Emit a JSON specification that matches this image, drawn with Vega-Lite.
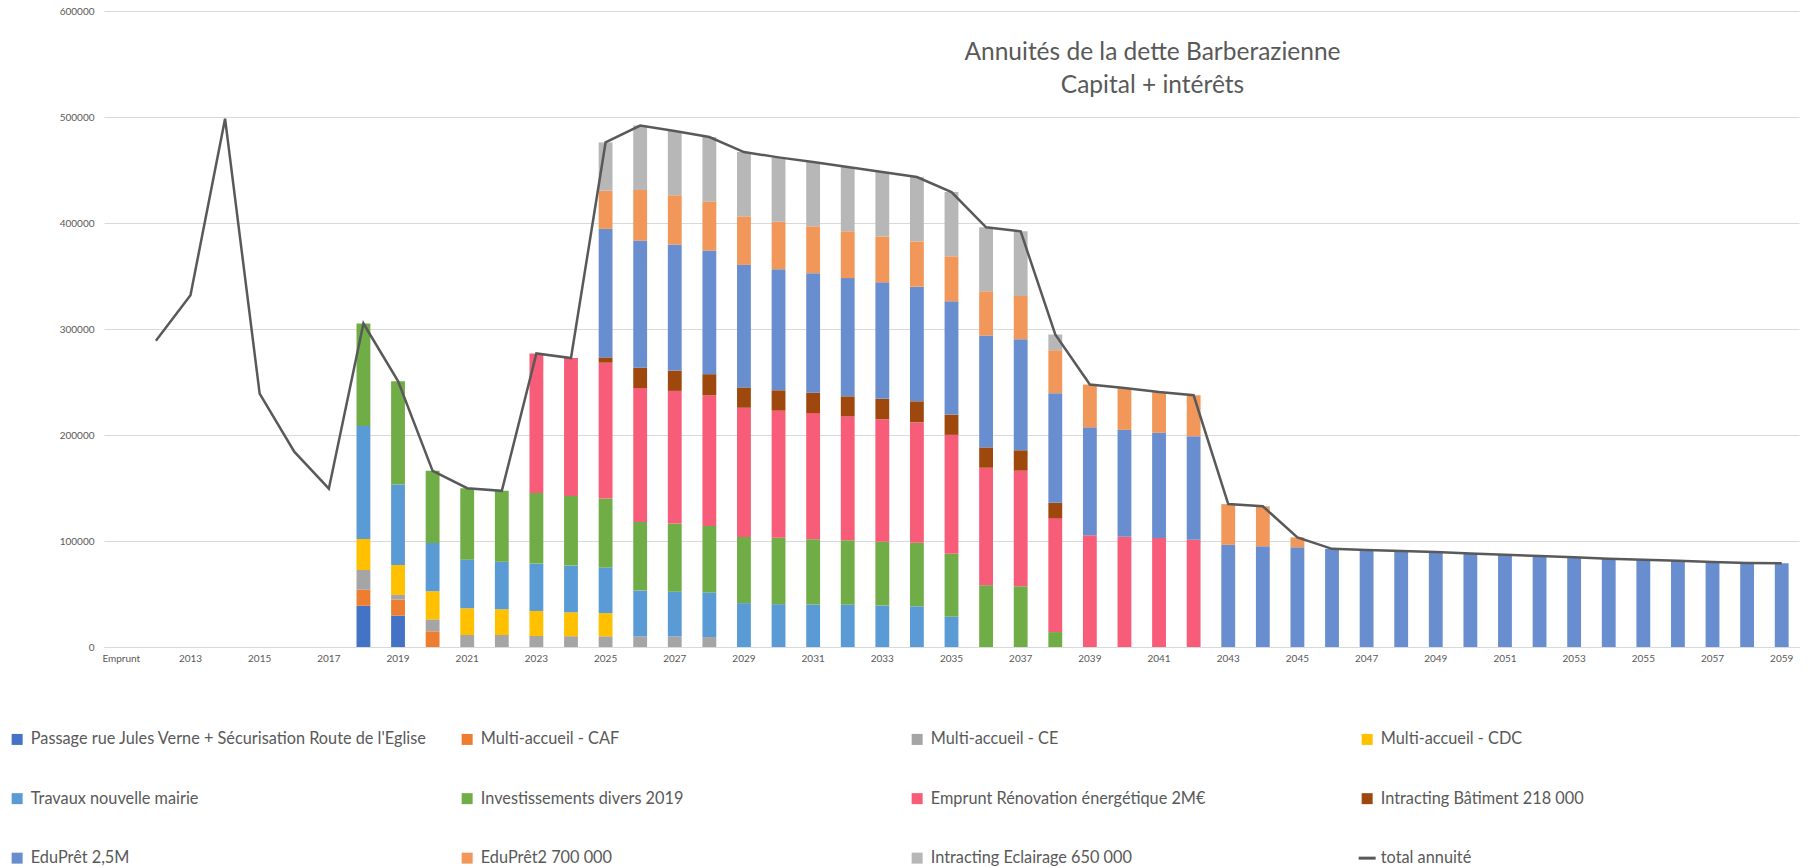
{
  "$schema": "https://vega.github.io/schema/vega-lite/v6.json",
  "width": 1695,
  "height": 636,
  "autosize": {"type": "none"},
  "padding": {"left": 104, "top": 11, "right": 9, "bottom": 221},
  "background": "white",
  "config": {"view": {"stroke": null}, "font": "Lato"},
  "title": {
    "text": ["Annuités de la dette Barberazienne", "Capital + intérêts"],
    "anchor": "middle",
    "frame": "group",
    "dx": 201,
    "dy": 96,
    "font": "Lato",
    "fontSize": 24.5,
    "fontWeight": "normal",
    "color": "#595959",
    "lineHeight": 33
  },
  "datasets": {
    "series": [
      {"code": "A", "serie": "Passage rue Jules Verne + Sécurisation Route de l'Eglise", "rang": 1},
      {"code": "B", "serie": "Multi-accueil - CAF", "rang": 2},
      {"code": "C", "serie": "Multi-accueil - CE", "rang": 3},
      {"code": "D", "serie": "Multi-accueil - CDC", "rang": 4},
      {"code": "E", "serie": "Travaux nouvelle mairie", "rang": 5},
      {"code": "F", "serie": "Investissements divers 2019", "rang": 6},
      {"code": "G", "serie": "Emprunt Rénovation énergétique 2M€", "rang": 7},
      {"code": "H", "serie": "Intracting Bâtiment 218 000", "rang": 8},
      {"code": "I", "serie": "EduPrêt 2,5M", "rang": 9},
      {"code": "J", "serie": "EduPrêt2 700 000", "rang": 10},
      {"code": "K", "serie": "Intracting Eclairage 650 000", "rang": 11},
      {"code": "L", "serie": "total annuité", "rang": 12}
    ],
    "annuites": [
      {"annee": "2018", "code": "A", "valeur": 39000},
      {"annee": "2019", "code": "A", "valeur": 29600},
      {"annee": "2018", "code": "B", "valeur": 15100},
      {"annee": "2019", "code": "B", "valeur": 15100},
      {"annee": "2020", "code": "B", "valeur": 14800},
      {"annee": "2018", "code": "C", "valeur": 18600},
      {"annee": "2019", "code": "C", "valeur": 4400},
      {"annee": "2020", "code": "C", "valeur": 11300},
      {"annee": "2021", "code": "C", "valeur": 11300},
      {"annee": "2022", "code": "C", "valeur": 11300},
      {"annee": "2023", "code": "C", "valeur": 10400},
      {"annee": "2024", "code": "C", "valeur": 10200},
      {"annee": "2025", "code": "C", "valeur": 10100},
      {"annee": "2026", "code": "C", "valeur": 10100},
      {"annee": "2027", "code": "C", "valeur": 10100},
      {"annee": "2028", "code": "C", "valeur": 9400},
      {"annee": "2018", "code": "D", "valeur": 29300},
      {"annee": "2019", "code": "D", "valeur": 28300},
      {"annee": "2020", "code": "D", "valeur": 26500},
      {"annee": "2021", "code": "D", "valeur": 25200},
      {"annee": "2022", "code": "D", "valeur": 24300},
      {"annee": "2023", "code": "D", "valeur": 23600},
      {"annee": "2024", "code": "D", "valeur": 22500},
      {"annee": "2025", "code": "D", "valeur": 21900},
      {"annee": "2018", "code": "E", "valeur": 106600},
      {"annee": "2019", "code": "E", "valeur": 75800},
      {"annee": "2020", "code": "E", "valeur": 45600},
      {"annee": "2021", "code": "E", "valeur": 45900},
      {"annee": "2022", "code": "E", "valeur": 44900},
      {"annee": "2023", "code": "E", "valeur": 44700},
      {"annee": "2024", "code": "E", "valeur": 44100},
      {"annee": "2025", "code": "E", "valeur": 43100},
      {"annee": "2026", "code": "E", "valeur": 43100},
      {"annee": "2027", "code": "E", "valeur": 42100},
      {"annee": "2028", "code": "E", "valeur": 42100},
      {"annee": "2029", "code": "E", "valeur": 41400},
      {"annee": "2030", "code": "E", "valeur": 40400},
      {"annee": "2031", "code": "E", "valeur": 40100},
      {"annee": "2032", "code": "E", "valeur": 39800},
      {"annee": "2033", "code": "E", "valeur": 39100},
      {"annee": "2034", "code": "E", "valeur": 38400},
      {"annee": "2035", "code": "E", "valeur": 28600},
      {"annee": "2018", "code": "F", "valeur": 96600},
      {"annee": "2019", "code": "F", "valeur": 97600},
      {"annee": "2020", "code": "F", "valeur": 68000},
      {"annee": "2021", "code": "F", "valeur": 67400},
      {"annee": "2022", "code": "F", "valeur": 66800},
      {"annee": "2023", "code": "F", "valeur": 66700},
      {"annee": "2024", "code": "F", "valeur": 65600},
      {"annee": "2025", "code": "F", "valeur": 65000},
      {"annee": "2026", "code": "F", "valeur": 64700},
      {"annee": "2027", "code": "F", "valeur": 64400},
      {"annee": "2028", "code": "F", "valeur": 62700},
      {"annee": "2029", "code": "F", "valeur": 62400},
      {"annee": "2030", "code": "F", "valeur": 62700},
      {"annee": "2031", "code": "F", "valeur": 61600},
      {"annee": "2032", "code": "F", "valeur": 60900},
      {"annee": "2033", "code": "F", "valeur": 60300},
      {"annee": "2034", "code": "F", "valeur": 60000},
      {"annee": "2035", "code": "F", "valeur": 59300},
      {"annee": "2036", "code": "F", "valeur": 58300},
      {"annee": "2037", "code": "F", "valeur": 57300},
      {"annee": "2038", "code": "F", "valeur": 14100},
      {"annee": "2023", "code": "G", "valeur": 131500},
      {"annee": "2024", "code": "G", "valeur": 130200},
      {"annee": "2025", "code": "G", "valeur": 128100},
      {"annee": "2026", "code": "G", "valeur": 126400},
      {"annee": "2027", "code": "G", "valeur": 125000},
      {"annee": "2028", "code": "G", "valeur": 123300},
      {"annee": "2029", "code": "G", "valeur": 121900},
      {"annee": "2030", "code": "G", "valeur": 119900},
      {"annee": "2031", "code": "G", "valeur": 119000},
      {"annee": "2032", "code": "G", "valeur": 116900},
      {"annee": "2033", "code": "G", "valeur": 115500},
      {"annee": "2034", "code": "G", "valeur": 113500},
      {"annee": "2035", "code": "G", "valeur": 112200},
      {"annee": "2036", "code": "G", "valeur": 110800},
      {"annee": "2037", "code": "G", "valeur": 109100},
      {"annee": "2038", "code": "G", "valeur": 107500},
      {"annee": "2039", "code": "G", "valeur": 105400},
      {"annee": "2040", "code": "G", "valeur": 104100},
      {"annee": "2041", "code": "G", "valeur": 102800},
      {"annee": "2042", "code": "G", "valeur": 101100},
      {"annee": "2025", "code": "H", "valeur": 5000},
      {"annee": "2026", "code": "H", "valeur": 19200},
      {"annee": "2027", "code": "H", "valeur": 19200},
      {"annee": "2028", "code": "H", "valeur": 19900},
      {"annee": "2029", "code": "H", "valeur": 19200},
      {"annee": "2030", "code": "H", "valeur": 19200},
      {"annee": "2031", "code": "H", "valeur": 19200},
      {"annee": "2032", "code": "H", "valeur": 18900},
      {"annee": "2033", "code": "H", "valeur": 19200},
      {"annee": "2034", "code": "H", "valeur": 19900},
      {"annee": "2035", "code": "H", "valeur": 19200},
      {"annee": "2036", "code": "H", "valeur": 19200},
      {"annee": "2037", "code": "H", "valeur": 19200},
      {"annee": "2038", "code": "H", "valeur": 14500},
      {"annee": "2025", "code": "I", "valeur": 121300},
      {"annee": "2026", "code": "I", "valeur": 119900},
      {"annee": "2027", "code": "I", "valeur": 118900},
      {"annee": "2028", "code": "I", "valeur": 116600},
      {"annee": "2029", "code": "I", "valeur": 115600},
      {"annee": "2030", "code": "I", "valeur": 114200},
      {"annee": "2031", "code": "I", "valeur": 112800},
      {"annee": "2032", "code": "I", "valeur": 111500},
      {"annee": "2033", "code": "I", "valeur": 109900},
      {"annee": "2034", "code": "I", "valeur": 108100},
      {"annee": "2035", "code": "I", "valeur": 106800},
      {"annee": "2036", "code": "I", "valeur": 105500},
      {"annee": "2037", "code": "I", "valeur": 104800},
      {"annee": "2038", "code": "I", "valeur": 103400},
      {"annee": "2039", "code": "I", "valeur": 101800},
      {"annee": "2040", "code": "I", "valeur": 100700},
      {"annee": "2041", "code": "I", "valeur": 99300},
      {"annee": "2042", "code": "I", "valeur": 97700},
      {"annee": "2043", "code": "I", "valeur": 96400},
      {"annee": "2044", "code": "I", "valeur": 95000},
      {"annee": "2045", "code": "I", "valeur": 94000},
      {"annee": "2046", "code": "I", "valeur": 92600},
      {"annee": "2047", "code": "I", "valeur": 91600},
      {"annee": "2048", "code": "I", "valeur": 90600},
      {"annee": "2049", "code": "I", "valeur": 89600},
      {"annee": "2050", "code": "I", "valeur": 88300},
      {"annee": "2051", "code": "I", "valeur": 87100},
      {"annee": "2052", "code": "I", "valeur": 85800},
      {"annee": "2053", "code": "I", "valeur": 84600},
      {"annee": "2054", "code": "I", "valeur": 83300},
      {"annee": "2055", "code": "I", "valeur": 82300},
      {"annee": "2056", "code": "I", "valeur": 81400},
      {"annee": "2057", "code": "I", "valeur": 80100},
      {"annee": "2058", "code": "I", "valeur": 79200},
      {"annee": "2059", "code": "I", "valeur": 78900},
      {"annee": "2025", "code": "J", "valeur": 36000},
      {"annee": "2026", "code": "J", "valeur": 47800},
      {"annee": "2027", "code": "J", "valeur": 46500},
      {"annee": "2028", "code": "J", "valeur": 46400},
      {"annee": "2029", "code": "J", "valeur": 45800},
      {"annee": "2030", "code": "J", "valeur": 44800},
      {"annee": "2031", "code": "J", "valeur": 44200},
      {"annee": "2032", "code": "J", "valeur": 44200},
      {"annee": "2033", "code": "J", "valeur": 43400},
      {"annee": "2034", "code": "J", "valeur": 42800},
      {"annee": "2035", "code": "J", "valeur": 42500},
      {"annee": "2036", "code": "J", "valeur": 41800},
      {"annee": "2037", "code": "J", "valeur": 40800},
      {"annee": "2038", "code": "J", "valeur": 40500},
      {"annee": "2039", "code": "J", "valeur": 40400},
      {"annee": "2040", "code": "J", "valeur": 39500},
      {"annee": "2041", "code": "J", "valeur": 38400},
      {"annee": "2042", "code": "J", "valeur": 38700},
      {"annee": "2043", "code": "J", "valeur": 38400},
      {"annee": "2044", "code": "J", "valeur": 37700},
      {"annee": "2045", "code": "J", "valeur": 9400},
      {"annee": "2025", "code": "K", "valeur": 45500},
      {"annee": "2026", "code": "K", "valeur": 60700},
      {"annee": "2027", "code": "K", "valeur": 60600},
      {"annee": "2028", "code": "K", "valeur": 60700},
      {"annee": "2029", "code": "K", "valeur": 60600},
      {"annee": "2030", "code": "K", "valeur": 60700},
      {"annee": "2031", "code": "K", "valeur": 60600},
      {"annee": "2032", "code": "K", "valeur": 60600},
      {"annee": "2033", "code": "K", "valeur": 60700},
      {"annee": "2034", "code": "K", "valeur": 60700},
      {"annee": "2035", "code": "K", "valeur": 60600},
      {"annee": "2036", "code": "K", "valeur": 60300},
      {"annee": "2037", "code": "K", "valeur": 60900},
      {"annee": "2038", "code": "K", "valeur": 14800},
      {"annee": "2012", "code": "L", "valeur": 289000},
      {"annee": "2013", "code": "L", "valeur": 331800},
      {"annee": "2014", "code": "L", "valeur": 498400},
      {"annee": "2015", "code": "L", "valeur": 239000},
      {"annee": "2016", "code": "L", "valeur": 184300},
      {"annee": "2017", "code": "L", "valeur": 149400},
      {"annee": "2018", "code": "L", "valeur": 305200},
      {"annee": "2019", "code": "L", "valeur": 250800},
      {"annee": "2020", "code": "L", "valeur": 166200},
      {"annee": "2021", "code": "L", "valeur": 149800},
      {"annee": "2022", "code": "L", "valeur": 147300},
      {"annee": "2023", "code": "L", "valeur": 276900},
      {"annee": "2024", "code": "L", "valeur": 272600},
      {"annee": "2025", "code": "L", "valeur": 476000},
      {"annee": "2026", "code": "L", "valeur": 491900},
      {"annee": "2027", "code": "L", "valeur": 486800},
      {"annee": "2028", "code": "L", "valeur": 481100},
      {"annee": "2029", "code": "L", "valeur": 466900},
      {"annee": "2030", "code": "L", "valeur": 461900},
      {"annee": "2031", "code": "L", "valeur": 457500},
      {"annee": "2032", "code": "L", "valeur": 452800},
      {"annee": "2033", "code": "L", "valeur": 448100},
      {"annee": "2034", "code": "L", "valeur": 443400},
      {"annee": "2035", "code": "L", "valeur": 429200},
      {"annee": "2036", "code": "L", "valeur": 395900},
      {"annee": "2037", "code": "L", "valeur": 392100},
      {"annee": "2038", "code": "L", "valeur": 294800},
      {"annee": "2039", "code": "L", "valeur": 247600},
      {"annee": "2040", "code": "L", "valeur": 244300},
      {"annee": "2041", "code": "L", "valeur": 240500},
      {"annee": "2042", "code": "L", "valeur": 237500},
      {"annee": "2043", "code": "L", "valeur": 134800},
      {"annee": "2044", "code": "L", "valeur": 132700},
      {"annee": "2045", "code": "L", "valeur": 103400},
      {"annee": "2046", "code": "L", "valeur": 92600},
      {"annee": "2047", "code": "L", "valeur": 91600},
      {"annee": "2048", "code": "L", "valeur": 90600},
      {"annee": "2049", "code": "L", "valeur": 89600},
      {"annee": "2050", "code": "L", "valeur": 88300},
      {"annee": "2051", "code": "L", "valeur": 87100},
      {"annee": "2052", "code": "L", "valeur": 85800},
      {"annee": "2053", "code": "L", "valeur": 84600},
      {"annee": "2054", "code": "L", "valeur": 83300},
      {"annee": "2055", "code": "L", "valeur": 82300},
      {"annee": "2056", "code": "L", "valeur": 81400},
      {"annee": "2057", "code": "L", "valeur": 80100},
      {"annee": "2058", "code": "L", "valeur": 79200},
      {"annee": "2059", "code": "L", "valeur": 78900}
    ]
  },
  "data": {"name": "annuites"},
  "transform": [
    {"lookup": "code", "from": {"data": {"name": "series"}, "key": "code", "fields": ["serie", "rang"]}}
  ],
  "encoding": {
    "x": {
      "field": "annee",
      "type": "nominal",
      "title": null,
      "scale": {
        "type": "band",
        "paddingInner": 0.6,
        "paddingOuter": 0.3,
        "domain": ["Emprunt", "2012", "2013", "2014", "2015", "2016", "2017", "2018", "2019", "2020", "2021", "2022", "2023", "2024", "2025", "2026", "2027", "2028", "2029", "2030", "2031", "2032", "2033", "2034", "2035", "2036", "2037", "2038", "2039", "2040", "2041", "2042", "2043", "2044", "2045", "2046", "2047", "2048", "2049", "2050", "2051", "2052", "2053", "2054", "2055", "2056", "2057", "2058", "2059"]
      },
      "axis": {
        "values": ["Emprunt", "2013", "2015", "2017", "2019", "2021", "2023", "2025", "2027", "2029", "2031", "2033", "2035", "2037", "2039", "2041", "2043", "2045", "2047", "2049", "2051", "2053", "2055", "2057", "2059"],
        "labelAngle": 0,
        "ticks": false,
        "domainColor": "#D9D9D9",
        "domainWidth": 1,
        "labelFont": "Lato",
        "labelFontSize": 10,
        "labelColor": "#595959",
        "labelPadding": 6,
        "grid": false
      }
    },
    "y": {
      "field": "valeur",
      "type": "quantitative",
      "title": null,
      "scale": {"domain": [0, 600000], "nice": false},
      "axis": {
        "values": [0, 100000, 200000, 300000, 400000, 500000, 600000],
        "format": "d",
        "domain": false,
        "ticks": false,
        "gridColor": "#D9D9D9",
        "gridWidth": 1,
        "labelFont": "Lato",
        "labelFontSize": 10,
        "labelColor": "#595959",
        "labelPadding": 10
      }
    },
    "color": {
      "field": "serie",
      "type": "nominal",
      "scale": {
        "domain": ["Passage rue Jules Verne + Sécurisation Route de l'Eglise", "Multi-accueil - CAF", "Multi-accueil - CE", "Multi-accueil - CDC", "Travaux nouvelle mairie", "Investissements divers 2019", "Emprunt Rénovation énergétique 2M€", "Intracting Bâtiment 218 000", "EduPrêt 2,5M", "EduPrêt2 700 000", "Intracting Eclairage 650 000", "total annuité"],
        "range": ["#4472C4", "#ED7D31", "#A5A5A5", "#FFC000", "#5B9BD5", "#70AD47", "#F75C78", "#9E480E", "#698ED0", "#F1975A", "#B7B7B7", "#595959"]
      },
      "legend": {
        "title": null,
        "orient": "none",
        "legendX": -95,
        "legendY": 720,
        "direction": "horizontal",
        "columns": 4,
        "gridAlign": "all",
        "columnPadding": 25,
        "rowPadding": 42.5,
        "symbolType": "square",
        "symbolSize": 121,
        "symbolStrokeWidth": 0,
        "labelFont": "Lato",
        "labelFontSize": 16.3,
        "labelColor": "#595959",
        "labelOffset": 5.5,
        "labelLimit": 0,
        "encode": {
          "symbols": {
            "update": {
              "shape": {"signal": "datum.value === 'total annuité' ? 'stroke' : 'square'"},
              "size": {"signal": "datum.value === 'total annuité' ? 289 : 121"},
              "stroke": {"signal": "datum.value === 'total annuité' ? '#595959' : 'transparent'"},
              "strokeWidth": {"signal": "datum.value === 'total annuité' ? 3 : 0"},
              "fill": {"signal": "scale('color', datum.value)"},
              "opacity": {"value": 1}
            }
          }
        }
      }
    }
  },
  "layer": [
    {
      "transform": [{"filter": "datum.code !== 'L'"}],
      "mark": {"type": "bar"},
      "encoding": {
        "y": {"field": "valeur", "type": "quantitative", "stack": "zero"},
        "order": {"field": "rang", "type": "quantitative", "sort": "ascending"}
      }
    },
    {
      "transform": [{"filter": "datum.code === 'L'"}],
      "mark": {"type": "line", "strokeWidth": 2.5},
      "encoding": {}
    }
  ]
}
